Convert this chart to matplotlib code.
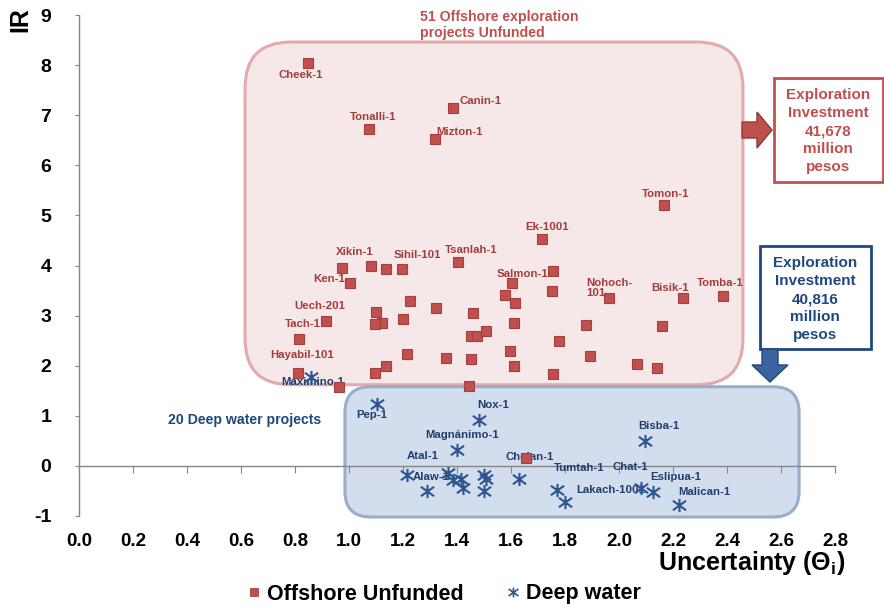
import numpy as np
import matplotlib
matplotlib.use('Agg')
import matplotlib.pyplot as plt
from matplotlib import font_manager
from matplotlib.path import Path
from matplotlib.patches import FancyBboxPatch, Rectangle, Polygon
from matplotlib.lines import Line2D

# ---- data ----
offshore_x = [0.848, 1.073, 1.385, 1.320, 1.714, 0.975, 1.081, 1.138, 1.195, 1.402,
              1.757, 1.004, 1.605, 1.753, 1.579, 1.615, 1.226, 1.324, 1.458, 1.099,
              1.201, 1.121, 1.098, 0.915, 1.610, 1.779, 0.816, 1.453, 1.474, 1.506,
              1.216, 1.358, 1.453, 1.596, 1.610, 1.136, 1.096, 0.810, 1.756, 0.962,
              1.443, 2.165, 1.964, 2.237, 2.387, 1.877, 2.158, 1.891, 2.068, 2.139,
              1.656]
offshore_y = [8.04, 6.72, 7.15, 6.53, 4.52, 3.95, 4.00, 3.93, 3.93, 4.07,
              3.89, 3.66, 3.66, 3.50, 3.41, 3.26, 3.29, 3.15, 3.05, 3.07,
              2.94, 2.85, 2.83, 2.89, 2.85, 2.50, 2.53, 2.60, 2.60, 2.69,
              2.24, 2.16, 2.14, 2.30, 2.00, 2.00, 1.86, 1.86, 1.84, 1.58,
              1.60, 5.20, 3.35, 3.36, 3.39, 2.81, 2.79, 2.20, 2.03, 1.96,
              0.15]
offshore_names = ['Cheek-1', 'Tonalli-1', 'Canin-1', 'Mizton-1', 'Ek-1001', 'Xikin-1', '', '',
                  'Sihil-101', 'Tsanlah-1', '', 'Ken-1', 'Salmon-1A', '', '', '', '', '', '', '',
                  '', '', '', 'Uech-201', '', '', 'Tach-1', '', '', '', '', '', '', '', '', '',
                  '', 'Hayabil-101', '', '', '', 'Tomon-1', 'Nohoch-\n101', 'Bisik-1', 'Tomba-1',
                  '', '', '', '', '', '']

deep_x = [1.102, 1.483, 1.400, 1.215, 1.367, 1.386, 1.413, 1.421, 1.290, 1.500,
          1.507, 1.500, 1.630, 1.772, 1.801, 2.096, 2.080, 2.127, 2.221, 0.859]
deep_y = [1.24, 0.92, 0.31, -0.19, -0.15, -0.28, -0.27, -0.45, -0.51, -0.19,
          -0.27, -0.50, -0.27, -0.49, -0.72, 0.50, -0.45, -0.53, -0.79, 1.78]
deep_names = ['Pep-1', 'Nox-1', 'Magnánimo-1', 'Atal-1', 'Alaw-1', '', '', '', '', '',
              '', '', 'Chelan-1', 'Tumtah-1', 'Lakach-1001', 'Bisba-1', 'Chat-1', 'Eslipua-1',
              'Malican-1', 'Maximino-1']

x_ticks = [0.0, 0.2, 0.4, 0.6, 0.8, 1.0, 1.2, 1.4, 1.6, 1.8, 2.0, 2.2, 2.4, 2.6, 2.8]
y_ticks = [-1, 0, 1, 2, 3, 4, 5, 6, 7, 8, 9]

# label offsets from their point, in pixels (x right, y up)
label_offsets = {
    'Cheek-1': (-7, -12), 'Canin-1': (28, 7), 'Tonalli-1': (4, 12), 'Mizton-1': (24, 7),
    'Xikin-1': (13, 16), 'Sihil-101': (16, 14), 'Tsanlah-1': (14, 12), 'Ek-1001': (5, 12),
    'Ken-1': (-21, 4), 'Salmon-1A': (14, 9), 'Uech-201': (-6, 15), 'Tach-1': (4, 15),
    'Hayabil-101': (4, 18), 'Tomon-1': (2, 11), 'Bisik-1': (-13, 10), 'Tomba-1': (-3, 13),
    'Maximino-1': (2, -5), 'Pep-1': (-5, -11), 'Nox-1': (14, 15), 'Magnánimo-1': (5, 15),
    'Atal-1': (16, 19), 'Alaw-1': (-17, -4), 'Chelan-1': (11, 22), 'Tumtah-1': (22, 22),
    'Lakach-1001': (45, 12), 'Chat-1': (-10, 21), 'Bisba-1': (14, 15), 'Eslipua-1': (22, 15),
    'Malican-1': (26, 13),
}

RED = '#C0504D'
RED_TXT = '#A33C3B'
BLUE = '#2C5592'
BLUE_TXT = '#1F3E6E'
NAVY = '#1F497D'
GRAY = '#868686'

names = {f.name for f in font_manager.fontManager.ttflist}
NARROW = 'Liberation Sans Narrow' if 'Liberation Sans Narrow' in names else 'Liberation Sans'
plt.rcParams['font.family'] = ['Liberation Sans', 'DejaVu Sans']
plt.rcParams['font.weight'] = 'bold'
plt.rcParams['axes.unicode_minus'] = False

W, H = 884, 608
fig = plt.figure(figsize=(W / 100, H / 100), dpi=100)
ax = fig.add_axes([79 / W, (H - 516) / H, 756 / W, 501 / H])


def fpx(x, y):
    # pixel position (from top-left) to figure fraction
    return (x / W, 1 - y / H)


ax.set_xlim(0, 2.8)
ax.set_ylim(-1, 9)

# rounded group boxes (data coords, radius corrected for axis scales)
aspect = (756 / 2.8) / (501 / 10)
pink = FancyBboxPatch((0.615, 1.62), 2.459 - 0.615, 8.46 - 1.62,
                      boxstyle='round,pad=0,rounding_size=0.17', mutation_aspect=aspect,
                      facecolor='#F6E8E8', edgecolor='#E3AAAA', linewidth=2.2,
                      zorder=0.5, clip_on=False)
blue = FancyBboxPatch((0.985, -1.02), 2.667 - 0.985, 1.58 + 1.02,
                      boxstyle='round,pad=0,rounding_size=0.095', mutation_aspect=aspect,
                      facecolor='#D2DDEE', edgecolor='#98AECB', linewidth=2.2,
                      zorder=0.6, clip_on=False)
ax.add_patch(pink)
ax.add_patch(blue)

# markers
star = Path([(0, -1), (0, 1), (-1, -0.72), (1, 0.72), (-1, 0.72), (1, -0.72)],
            [Path.MOVETO, Path.LINETO, Path.MOVETO, Path.LINETO, Path.MOVETO, Path.LINETO])
ax.plot(offshore_x, offshore_y, linestyle='none', marker='s', markersize=6.6,
        markerfacecolor=RED, markeredgecolor='#A53F3D', markeredgewidth=0.8, zorder=5,
        clip_on=False)
ax.plot(deep_x, deep_y, linestyle='none', marker=star, markersize=9.5,
        markerfacecolor='none', markeredgecolor=BLUE, markeredgewidth=1.5, zorder=5,
        clip_on=False)

# data labels
for xs, ys, labels, col in [(offshore_x, offshore_y, offshore_names, RED_TXT),
                            (deep_x, deep_y, deep_names, BLUE_TXT)]:
    for x, y, name in zip(xs, ys, labels):
        if not name:
            continue
        if name.startswith('Nohoch'):
            ax.annotate(name, (x, y), xytext=(-23, 10), textcoords='offset pixels',
                        ha='left', va='center', fontsize=8.2, color=col,
                        fontweight='bold', linespacing=1.1, zorder=4)
            continue
        dx, dy = label_offsets[name]
        ax.annotate(name, (x, y), xytext=(dx, dy), textcoords='offset pixels',
                    ha='center', va='center', fontsize=8.2, color=col,
                    fontweight='bold', zorder=4)

# axes styling
for s in ['top', 'right']:
    ax.spines[s].set_visible(False)
ax.spines['bottom'].set_position(('data', 0))
for s in ['left', 'bottom']:
    ax.spines[s].set_color(GRAY)
    ax.spines[s].set_linewidth(1.0)
ax.set_xticks(x_ticks)
ax.set_yticks(y_ticks)
ax.tick_params(axis='x', direction='out', length=5, color=GRAY, labelbottom=False)
ax.tick_params(axis='y', direction='out', length=3, color=GRAY, pad=17,
               labelsize=14)
for lab in ax.get_yticklabels():
    lab.set_fontfamily([NARROW, 'Liberation Sans'])
    lab.set_fontweight('bold')

sec = ax.secondary_xaxis(0)
sec.spines['bottom'].set_visible(False)
sec.set_xticks(x_ticks)
sec.set_xticklabels(['%.1f' % t for t in x_ticks])
sec.tick_params(length=0, pad=12, labelsize=13.5)
for lab in sec.get_xticklabels():
    lab.set_fontfamily([NARROW, 'Liberation Sans'])
    lab.set_fontweight('bold')

ax.set_ylabel('IR', fontsize=18, fontweight='bold', family=[NARROW, 'Liberation Sans'])
ax.yaxis.set_label_coords(-0.078, 0.99)
ax.yaxis.label.set_va('center')
ax.yaxis.label.set_ha('center')
ax.set_xlabel('Uncertainty (Θ$_{\\mathregular{i}}$)', fontsize=18, fontweight='bold',
              family=[NARROW, 'Liberation Sans'], loc='right')
ax.xaxis.set_label_coords(1.013, -0.094)
ax.xaxis.label.set_va('center')

# group captions
fig.text(*fpx(420, 25), '51 Offshore exploration\nprojects Unfunded', color=RED,
         fontsize=10.2, fontweight='bold', ha='left', va='center', linespacing=1.15)
fig.text(*fpx(245, 420), '20 Deep water projects', color=NAVY, fontsize=10.2,
         fontweight='bold', ha='center', va='center')

# investment boxes and arrows
x0, y0 = fpx(774, 182)
x1, y1 = fpx(883, 78)
fig.patches.append(Rectangle((x0, y0), x1 - x0, y1 - y0, transform=fig.transFigure,
                             facecolor='white', edgecolor=RED, linewidth=2))
fig.text(*fpx(828, 131), 'Exploration\nInvestment\n41,678\nmillion\npesos', color=RED,
         fontsize=11, fontweight='bold', ha='center', va='center', linespacing=1.38)
x0, y0 = fpx(760, 349)
x1, y1 = fpx(871, 246)
fig.patches.append(Rectangle((x0, y0), x1 - x0, y1 - y0, transform=fig.transFigure,
                             facecolor='white', edgecolor=NAVY, linewidth=2))
fig.text(*fpx(815, 299), 'Exploration\nInvestment\n40,816\nmillion\npesos', color=NAVY,
         fontsize=11, fontweight='bold', ha='center', va='center', linespacing=1.38)

red_arrow = [fpx(742, 122), fpx(757, 122), fpx(757, 112), fpx(772, 130),
             fpx(757, 148), fpx(757, 138), fpx(742, 138)]
fig.patches.append(Polygon(red_arrow, closed=True, transform=fig.transFigure,
                           facecolor=RED, edgecolor='#8E3A38', linewidth=1))
blue_arrow = [fpx(762, 349), fpx(778, 349), fpx(778, 365), fpx(788, 365),
              fpx(770, 382), fpx(752, 365), fpx(762, 365)]
fig.patches.append(Polygon(blue_arrow, closed=True, transform=fig.transFigure,
                           facecolor='#3A64A0', edgecolor='#24477A', linewidth=1))

# legend
handles = [Line2D([], [], linestyle='none', marker='s', markersize=6, markerfacecolor=RED,
                  markeredgecolor='#A53F3D', markeredgewidth=0.6),
           Line2D([], [], linestyle='none', marker=star, markersize=7, markerfacecolor='none',
                  markeredgecolor=BLUE, markeredgewidth=1.2)]
fig.legend(handles, ['Offshore Unfunded', 'Deep water'], loc='center',
           bbox_to_anchor=fpx(444, 594), ncol=2, frameon=False, handlelength=0.6,
           handletextpad=0.3, columnspacing=2.0,
           prop={'family': [NARROW, 'Liberation Sans'], 'weight': 'bold', 'size': 15.5})

fig.savefig('out.png', dpi=100)
